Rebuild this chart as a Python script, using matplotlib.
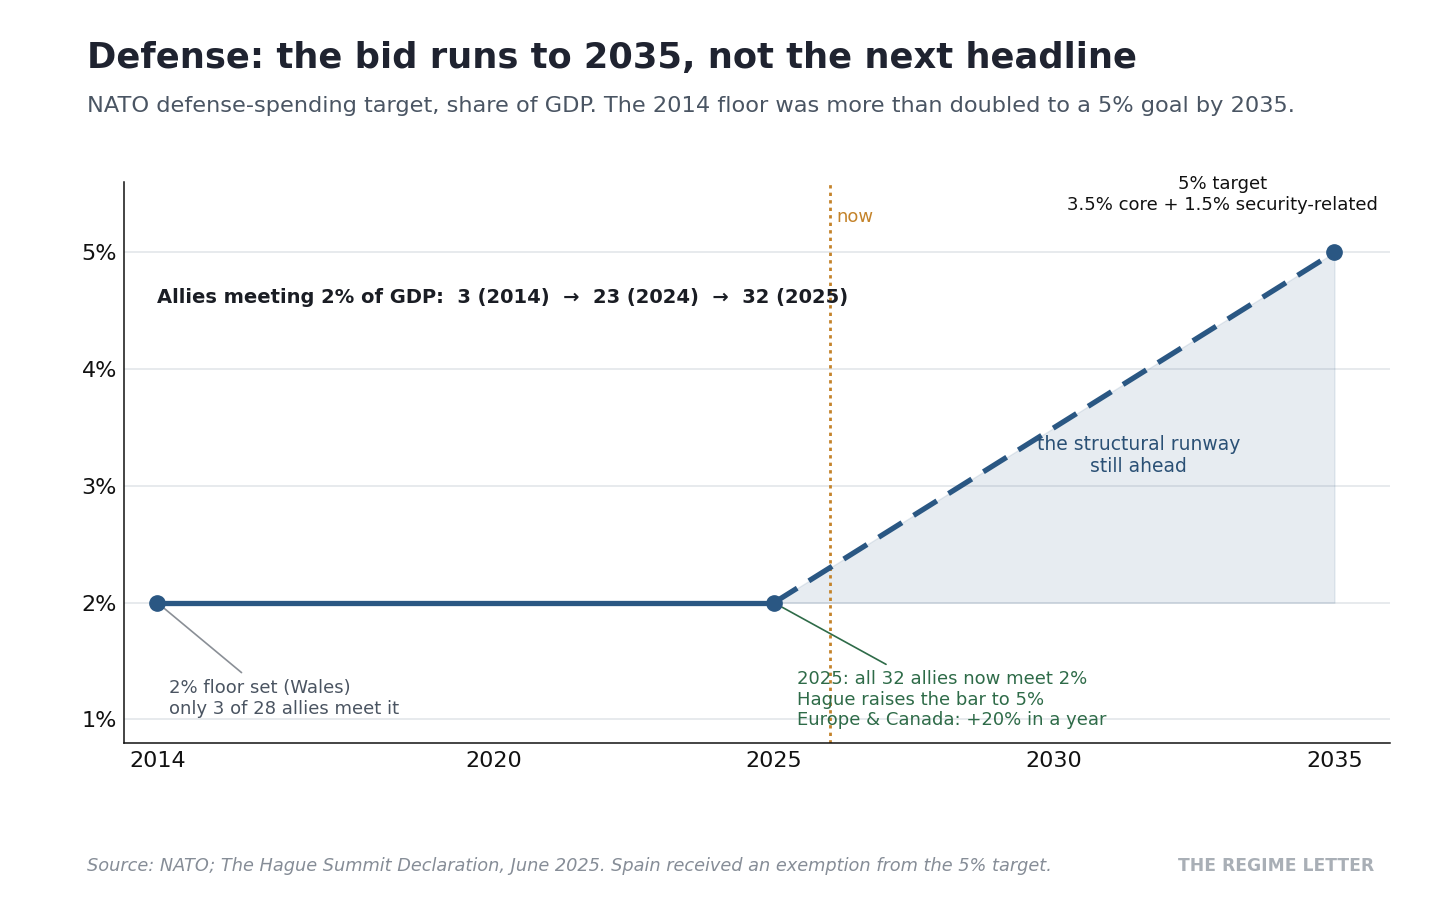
import matplotlib.pyplot as plt

# data
years_past = [2014, 2025]
share_past = [2.0, 2.0]
years_plan = [2025, 2035]
share_plan = [2.0, 5.0]
now_year = 2026
x_ticks = [2014, 2020, 2025, 2030, 2035]
y_ticks = [1, 2, 3, 4, 5]

blue = '#2a5783'
orange = '#c4832a'
green = '#2e6b48'

fig = plt.figure(figsize=(14.56, 9.07), dpi=100)
ax = fig.add_axes([0.085, 0.181, 0.87, 0.618])

# horizontal grid
for y in y_ticks:
    ax.axhline(y, color='#e3e6ea', lw=1.2, zorder=0)

# runway shading
ax.fill_between(years_plan, [2.0, 2.0], share_plan, color=blue, alpha=0.11,
                edgecolor=blue, linewidth=1, zorder=1)

ax.plot(years_past, share_past, color=blue, lw=3.8, solid_capstyle='butt', zorder=3)
ax.plot(years_plan, share_plan, color=blue, lw=3.8, ls=(0, (5.2, 2.6)), zorder=3)
ax.plot(years_past + years_plan[1:], share_past + share_plan[1:], 'o', color=blue,
        ms=11, zorder=4)

ax.axvline(now_year, color=orange, lw=2, ls=(0, (1.2, 1.5)), zorder=2)
ax.text(now_year + 0.12, 5.30, 'now', color=orange, fontsize=13, va='center')

ax.text(2014, 4.61, 'Allies meeting 2% of GDP:  3 (2014)  \u2192  23 (2024)  \u2192  32 (2025)',
        fontsize=14, fontweight='bold', color='#1a1d24', va='center', zorder=5)

ax.text(2033.0, 5.33, '5% target\n3.5% core + 1.5% security-related', fontsize=13,
        color='#111111', ha='center', va='bottom', linespacing=1.2)

ax.text(2031.5, 3.26, 'the structural runway\nstill ahead', fontsize=13.5,
        color='#2a5075', ha='center', va='center', linespacing=1.2)

ax.annotate('2% floor set (Wales)\nonly 3 of 28 allies meet it', xy=(2014, 2.0),
            xytext=(2014.2, 1.015), fontsize=13, color='#4a5461', ha='left', va='bottom',
            linespacing=1.2,
            arrowprops=dict(arrowstyle='-', color='#8a8f96', lw=1.2, relpos=(0.35, 1.0),
                            shrinkA=4, shrinkB=4))

ax.annotate('2025: all 32 allies now meet 2%\nHague raises the bar to 5%\nEurope & Canada: +20% in a year',
            xy=(2025, 2.0), xytext=(2025.41, 0.915), fontsize=13, color=green,
            ha='left', va='bottom', linespacing=1.2,
            arrowprops=dict(arrowstyle='-', color=green, lw=1.2, relpos=(0.32, 1.0),
                            shrinkA=4, shrinkB=4))

ax.set_xlim(2013.4, 2036)
ax.set_ylim(0.8, 5.6)
ax.set_xticks(x_ticks)
ax.set_xticklabels([str(x) for x in x_ticks])
ax.set_yticks(y_ticks)
ax.set_yticklabels([f'{y}%' for y in y_ticks])
ax.tick_params(length=0, labelsize=16, colors='#111111')
ax.tick_params(axis='y', pad=5)
ax.tick_params(axis='x', pad=6)
for s in ['top', 'right']:
    ax.spines[s].set_visible(False)
for s in ['left', 'bottom']:
    ax.spines[s].set_color('#111111')
    ax.spines[s].set_linewidth(1.1)

fig.text(0.060, 0.925, 'Defense: the bid runs to 2035, not the next headline',
         fontsize=25.4, fontweight='bold', color='#1f2330', va='baseline')
fig.text(0.060, 0.877, 'NATO defense-spending target, share of GDP. The 2014 floor was more than doubled to a 5% goal by 2035.',
         fontsize=16.2, color='#4a5563', va='baseline')
fig.text(0.060, 0.040, 'Source: NATO; The Hague Summit Declaration, June 2025. Spain received an exemption from the 5% target.',
         fontsize=12.8, color='#868d97', style='italic', va='baseline')
fig.text(0.944, 0.040, 'THE REGIME LETTER', fontsize=12.3, fontweight='bold', color='#a9afb6',
         ha='right', va='baseline')

fig.savefig('out.png', dpi=100)
